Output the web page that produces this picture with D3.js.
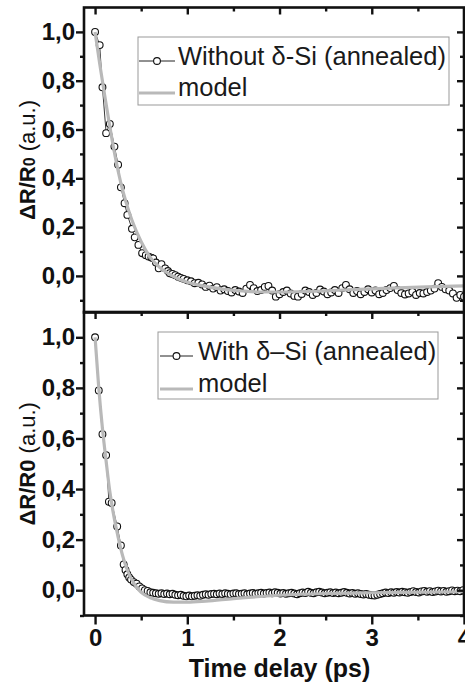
<!DOCTYPE html>
<html>
<head>
<meta charset="utf-8">
<script src="https://cdn.jsdelivr.net/npm/d3@7"></script>
<style>
  body { margin: 0; background: #fff; }
  svg { display: block; font-family: "Liberation Sans", Arial, sans-serif; }
</style>
</head>
<body>
<svg id="chart"></svg>
<script>
// ---- data ----
const xTicks = [0, 1, 2, 3, 4];
const xMinor = [0.5, 1.5, 2.5, 3.5];
const yTicks = [0, 0.2, 0.4, 0.6, 0.8, 1.0];
const yMinor = [-0.1, 0.1, 0.3, 0.5, 0.7, 0.9];
const legendTop = ['Without \u03B4-Si (annealed)', 'model'];
const legendBottom = ['With \u03B4\u2013Si (annealed)', 'model'];

// [time (ps), dR/R0]
const dataTop = [
  [0, 1.0], [0.05, 0.946], [0.08, 0.773], [0.12, 0.585], [0.16, 0.623], [0.21, 0.53],
  [0.25, 0.456], [0.28, 0.363], [0.32, 0.298], [0.35, 0.25], [0.40, 0.193], [0.43, 0.158],
  [0.47, 0.127], [0.51, 0.093], [0.55, 0.085], [0.58, 0.079], [0.61, 0.075], [0.63, 0.072],
  [0.66, 0.055], [0.69, 0.031], [0.72, 0.048], [0.76, 0.031], [0.79, 0.02], [0.81, 0.011],
  [0.84, 0.008], [0.87, 0.003], [0.90, -0.003], [0.93, -0.008], [0.96, -0.012], [1.00, -0.018],
  [1.04, -0.022], [1.08, -0.03], [1.12, -0.028], [1.16, -0.035], [1.20, -0.045], [1.24, -0.04],
  [1.28, -0.052], [1.32, -0.046], [1.36, -0.06], [1.40, -0.055], [1.44, -0.062], [1.48, -0.068],
  [1.52, -0.058], [1.56, -0.064], [1.60, -0.07], [1.64, -0.052], [1.68, -0.037], [1.72, -0.05],
  [1.76, -0.062], [1.80, -0.058], [1.84, -0.045], [1.88, -0.041], [1.92, -0.06], [1.96, -0.085],
  [2.00, -0.075], [2.04, -0.066], [2.08, -0.06], [2.12, -0.072], [2.16, -0.082], [2.20, -0.085],
  [2.24, -0.074], [2.28, -0.06], [2.32, -0.066], [2.36, -0.078], [2.40, -0.07], [2.44, -0.056],
  [2.48, -0.064], [2.52, -0.075], [2.56, -0.068], [2.60, -0.058], [2.64, -0.07], [2.68, -0.05],
  [2.72, -0.037], [2.76, -0.055], [2.80, -0.07], [2.84, -0.062], [2.88, -0.075], [2.92, -0.066],
  [2.96, -0.055], [3.00, -0.068], [3.04, -0.06], [3.08, -0.075], [3.12, -0.07], [3.16, -0.058],
  [3.20, -0.05], [3.24, -0.041], [3.28, -0.058], [3.32, -0.07], [3.36, -0.076], [3.40, -0.072],
  [3.44, -0.065], [3.48, -0.078], [3.52, -0.07], [3.56, -0.072], [3.60, -0.066], [3.64, -0.06],
  [3.68, -0.052], [3.72, -0.03], [3.76, -0.045], [3.80, -0.055], [3.84, -0.06], [3.88, -0.072],
  [3.92, -0.09], [3.96, -0.078], [4.00, -0.085]
];

const modelTop = [
  [0, 1.0], [0.05, 0.87], [0.1, 0.75], [0.15, 0.635], [0.2, 0.525], [0.25, 0.43],
  [0.3, 0.35], [0.35, 0.285], [0.4, 0.228], [0.5, 0.14], [0.6, 0.075], [0.7, 0.035],
  [0.8, 0.008], [0.9, -0.012], [1.0, -0.026], [1.2, -0.043], [1.4, -0.055], [1.6, -0.062],
  [1.8, -0.066], [2.0, -0.066], [2.4, -0.063], [2.8, -0.056], [3.2, -0.05], [3.6, -0.045],
  [4.0, -0.041]
];

const dataBottom = [
  [0, 1.0], [0.04, 0.79], [0.08, 0.617], [0.12, 0.534], [0.15, 0.35], [0.18, 0.345],
  [0.24, 0.252], [0.28, 0.177], [0.31, 0.102], [0.33, 0.08], [0.35, 0.063], [0.37, 0.05],
  [0.39, 0.042], [0.42, 0.032], [0.45, 0.026], [0.48, 0.015], [0.51, 0.007], [0.54, 0.0],
  [0.57, -0.003], [0.60, -0.008], [0.63, -0.01], [0.66, -0.012], [0.69, -0.014], [0.72, -0.012],
  [0.75, -0.015], [0.78, -0.013], [0.81, -0.016], [0.84, -0.014], [0.87, -0.018], [0.90, -0.02],
  [0.93, -0.018], [0.96, -0.022], [0.99, -0.024], [1.02, -0.021], [1.05, -0.024], [1.08, -0.022],
  [1.11, -0.02], [1.14, -0.022], [1.17, -0.018], [1.20, -0.016], [1.23, -0.018], [1.26, -0.015],
  [1.29, -0.014], [1.32, -0.016], [1.35, -0.013], [1.38, -0.015], [1.41, -0.012], [1.44, -0.014],
  [1.47, -0.016], [1.50, -0.013], [1.53, -0.012], [1.56, -0.015], [1.59, -0.014], [1.62, -0.012],
  [1.65, -0.016], [1.68, -0.013], [1.71, -0.011], [1.74, -0.014], [1.77, -0.012], [1.80, -0.01],
  [1.83, -0.013], [1.86, -0.011], [1.89, -0.009], [1.92, -0.012], [1.95, -0.008], [1.98, -0.01],
  [2.01, -0.013], [2.04, -0.011], [2.07, -0.014], [2.10, -0.012], [2.13, -0.01], [2.16, -0.013],
  [2.19, -0.016], [2.22, -0.012], [2.25, -0.009], [2.28, -0.011], [2.31, -0.006], [2.34, -0.01],
  [2.37, -0.012], [2.40, -0.008], [2.43, -0.006], [2.46, -0.009], [2.49, -0.012], [2.52, -0.01],
  [2.55, -0.008], [2.58, -0.011], [2.61, -0.009], [2.64, -0.012], [2.67, -0.01], [2.70, -0.007],
  [2.73, -0.01], [2.76, -0.013], [2.79, -0.011], [2.82, -0.014], [2.85, -0.012], [2.88, -0.015],
  [2.91, -0.017], [2.94, -0.015], [2.97, -0.018], [3.00, -0.02], [3.03, -0.021], [3.06, -0.018],
  [3.09, -0.015], [3.12, -0.012], [3.15, -0.009], [3.18, -0.011], [3.21, -0.008], [3.24, -0.01],
  [3.27, -0.007], [3.30, -0.009], [3.33, -0.006], [3.36, -0.008], [3.39, -0.01], [3.42, -0.007],
  [3.45, -0.004], [3.48, -0.007], [3.51, -0.009], [3.54, -0.005], [3.57, -0.003], [3.60, -0.006],
  [3.63, -0.004], [3.66, -0.007], [3.69, -0.005], [3.72, -0.002], [3.75, -0.005], [3.78, -0.003],
  [3.81, -0.006], [3.84, -0.004], [3.87, -0.001], [3.90, -0.004], [3.93, -0.002], [3.96, -0.004],
  [3.99, 0.0]
];

const modelBottom = [
  [0, 1.0], [0.04, 0.8], [0.08, 0.64], [0.12, 0.51], [0.16, 0.39], [0.2, 0.3],
  [0.25, 0.21], [0.3, 0.135], [0.35, 0.08], [0.4, 0.04], [0.45, 0.012], [0.5, -0.008],
  [0.6, -0.03], [0.7, -0.041], [0.85, -0.047], [1.0, -0.047], [1.2, -0.043], [1.5, -0.033],
  [2.0, -0.02], [2.5, -0.013], [3.0, -0.01], [3.5, -0.008], [4.0, -0.006]
];

// ---- layout ----
const W = 465, H = 684;
const left = 84, right = 464;
const svg = d3.select('#chart').attr('width', W).attr('height', H);

const x = d3.scaleLinear().domain([-0.12, 4.0]).range([left, right]);
const fmt = d => d3.format('.1f')(d).replace('.', ',');

const panels = [
  {
    data: dataTop, model: modelTop, legend: legendTop, sub: true,
    y: d3.scaleLinear().domain([-0.15, 1.1]).range([312.5, 7.5]),
    box: [138, 37, 311, 68], sample: [139, 175], textX: 178, base: [65, 96]
  },
  {
    data: dataBottom, model: modelBottom, legend: legendBottom, sub: false,
    y: d3.scaleLinear().domain([-0.1, 1.1]).range([615.5, 312]),
    box: [158, 332, 280, 67], sample: [160, 193], textX: 198, base: [360, 392]
  }
];

const gray = '#b9b9b9';

panels.forEach((p, i) => {
  const y = p.y;
  const top = y.range()[1], bottom = y.range()[0];
  const g = svg.append('g');

  const clipId = 'clip' + i;
  svg.append('clipPath').attr('id', clipId)
    .append('rect').attr('x', left).attr('y', top)
    .attr('width', right - left).attr('height', bottom - top);

  const plot = g.append('g').attr('clip-path', `url(#${clipId})`);
  const line = d3.line().x(d => x(d[0])).y(d => y(d[1]));

  plot.append('path').datum(p.data)
    .attr('d', line).attr('fill', 'none')
    .attr('stroke', '#222').attr('stroke-width', 0.9);

  plot.selectAll('circle').data(p.data).enter().append('circle')
    .attr('cx', d => x(d[0])).attr('cy', d => y(d[1])).attr('r', 3.4)
    .attr('fill', '#fff').attr('stroke', '#111').attr('stroke-width', 1.1);

  plot.append('path').datum(p.model)
    .attr('d', line.curve(d3.curveMonotoneX)).attr('fill', 'none')
    .attr('stroke', gray).attr('stroke-width', 3.2);

  // left axis, outward ticks
  const yAx = g.append('g').attr('transform', `translate(${left},0)`)
    .call(d3.axisLeft(y).tickValues(yTicks).tickSize(8).tickPadding(1).tickFormat(fmt));
  g.append('g').attr('transform', `translate(${left},0)`)
    .call(d3.axisLeft(y).tickValues(yMinor).tickSize(4).tickFormat(''));
  // right axis, inward ticks
  g.append('g').attr('transform', `translate(${right},0)`)
    .call(d3.axisLeft(y).tickValues(yTicks).tickSize(7).tickFormat(''));
  g.append('g').attr('transform', `translate(${right},0)`)
    .call(d3.axisLeft(y).tickValues(yMinor).tickSize(4).tickFormat(''));
  // top axis, inward ticks
  g.append('g').attr('transform', `translate(0,${top})`)
    .call(d3.axisBottom(x).tickValues(xTicks).tickSize(7).tickFormat(''));
  g.append('g').attr('transform', `translate(0,${top})`)
    .call(d3.axisBottom(x).tickValues(xMinor).tickSize(4).tickFormat(''));

  if (i === 1) {
    const xAx = g.append('g').attr('transform', `translate(0,${bottom})`)
      .call(d3.axisBottom(x).tickValues(xTicks).tickSize(9).tickPadding(4).tickFormat(d3.format('d')));
    g.append('g').attr('transform', `translate(0,${bottom})`)
      .call(d3.axisBottom(x).tickValues(xMinor).tickSize(5).tickFormat(''));
    xAx.selectAll('text').attr('font-size', 24).attr('font-weight', 'bold')
      .attr('font-family', '"Liberation Sans", Arial, sans-serif').attr('fill', '#111');
  }

  g.selectAll('.domain').remove();
  g.selectAll('.tick line').attr('stroke', '#111').attr('stroke-width', 2.4);
  yAx.selectAll('text').attr('font-size', 24).attr('font-weight', 'bold')
    .attr('font-family', '"Liberation Sans", Arial, sans-serif').attr('fill', '#111');

  // frame
  g.append('rect').attr('x', left).attr('y', top)
    .attr('width', right - left).attr('height', bottom - top)
    .attr('fill', 'none').attr('stroke', '#111').attr('stroke-width', 2.6);

  // y title
  const cy = (top + bottom) / 2;
  const t = g.append('text')
    .attr('transform', `translate(35,${cy}) rotate(-90)`)
    .attr('text-anchor', 'middle').attr('font-size', 22).attr('fill', '#111');
  t.append('tspan').attr('font-weight', 'bold').text('\u0394R/R');
  if (p.sub) t.append('tspan').attr('font-weight', 'bold').attr('font-size', 16).text('0');
  else t.append('tspan').attr('font-weight', 'bold').text('0');
  t.append('tspan').text(' (a.u.)');

  // legend
  const [bx, by, bw, bh] = p.box;
  const lg = g.append('g');
  lg.append('rect').attr('x', bx).attr('y', by).attr('width', bw).attr('height', bh)
    .attr('fill', '#fff').attr('stroke', '#999').attr('stroke-width', 1);
  const ly1 = p.base[0] - 4, ly2 = p.base[1] - 3;
  lg.append('line').attr('x1', p.sample[0]).attr('x2', p.sample[1])
    .attr('y1', ly1).attr('y2', ly1).attr('stroke', '#222').attr('stroke-width', 1);
  lg.append('circle').attr('cx', (p.sample[0] + p.sample[1]) / 2).attr('cy', ly1).attr('r', 3.4)
    .attr('fill', '#fff').attr('stroke', '#111').attr('stroke-width', 1.1);
  lg.append('line').attr('x1', p.sample[0]).attr('x2', p.sample[1])
    .attr('y1', ly2).attr('y2', ly2).attr('stroke', gray).attr('stroke-width', 3.2);
  lg.selectAll('text.lt').data(p.legend).enter().append('text')
    .attr('class', 'lt')
    .attr('x', p.textX).attr('y', (d, j) => p.base[j])
    .attr('font-size', 25.5).attr('fill', '#1a1a1a').text(d => d);
});

svg.append('text')
  .attr('x', x(2)).attr('y', 677)
  .attr('text-anchor', 'middle').attr('font-size', 25).attr('font-weight', 'bold')
  .attr('fill', '#111').text('Time delay (ps)');
</script>
</body>
</html>
